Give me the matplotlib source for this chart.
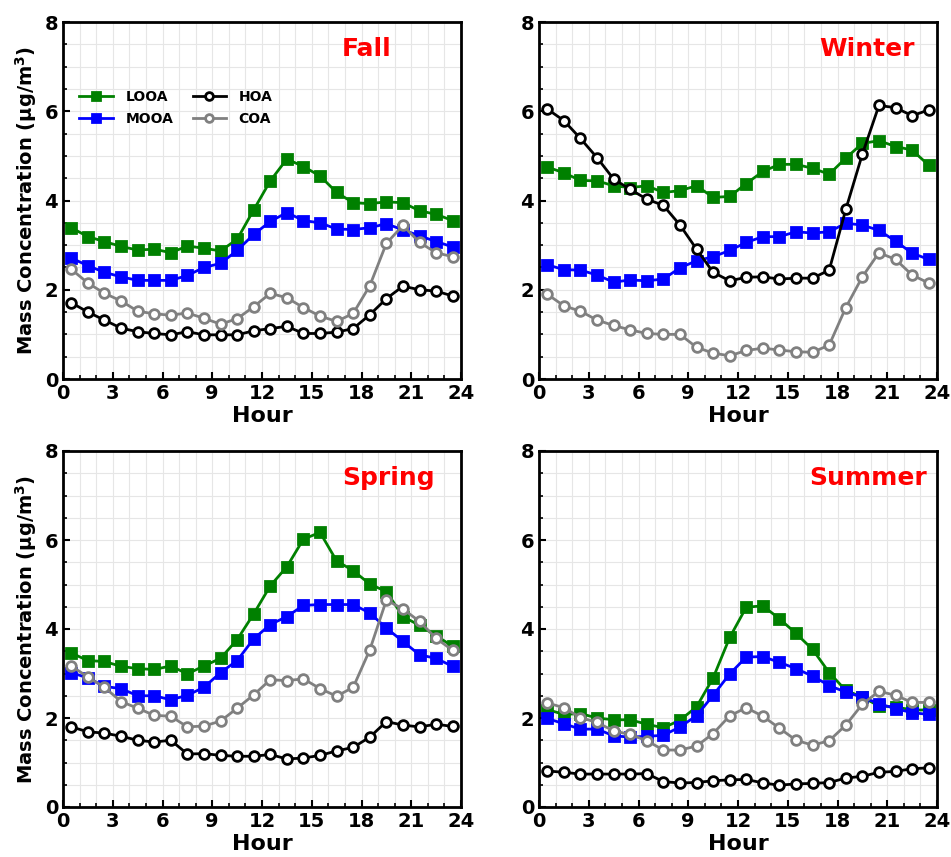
import numpy as np
import matplotlib
matplotlib.use("Agg")
import matplotlib.pyplot as plt
from matplotlib.ticker import MultipleLocator

plt.rcParams['font.family'] = 'DejaVu Sans'
plt.rcParams['font.weight'] = 'bold'

hours = np.arange(24) + 0.5
factors = ['LOOA', 'MOOA', 'HOA', 'COA']
seasons = ['Fall', 'Winter', 'Spring', 'Summer']

# diurnal profiles (ug/m3), one value per hour
fall_looa = [3.39, 3.19, 3.08, 2.97, 2.89, 2.91, 2.83, 2.98, 2.93, 2.87, 3.13, 3.79,
             4.44, 4.93, 4.76, 4.55, 4.18, 3.95, 3.93, 3.97, 3.95, 3.77, 3.69, 3.55]
fall_mooa = [2.71, 2.54, 2.39, 2.29, 2.21, 2.21, 2.21, 2.32, 2.50, 2.59, 2.88, 3.24,
             3.53, 3.73, 3.55, 3.50, 3.36, 3.35, 3.39, 3.48, 3.34, 3.21, 3.08, 2.96]
fall_hoa = [1.71, 1.50, 1.32, 1.14, 1.06, 1.02, 0.99, 1.06, 0.99, 0.99, 0.99, 1.08,
            1.13, 1.18, 1.02, 1.02, 1.05, 1.13, 1.44, 1.80, 2.08, 2.00, 1.97, 1.86]
fall_coa = [2.46, 2.15, 1.92, 1.75, 1.52, 1.46, 1.43, 1.48, 1.36, 1.23, 1.35, 1.62,
            1.92, 1.82, 1.60, 1.41, 1.29, 1.47, 2.09, 3.04, 3.44, 3.06, 2.83, 2.74]

winter_looa = [4.75, 4.62, 4.45, 4.44, 4.33, 4.29, 4.33, 4.18, 4.22, 4.33, 4.07, 4.09,
               4.38, 4.65, 4.81, 4.81, 4.72, 4.59, 4.95, 5.28, 5.34, 5.21, 5.13, 4.79]
winter_mooa = [2.56, 2.45, 2.44, 2.33, 2.17, 2.22, 2.20, 2.24, 2.49, 2.65, 2.74, 2.88,
               3.06, 3.19, 3.19, 3.30, 3.27, 3.30, 3.49, 3.45, 3.33, 3.09, 2.82, 2.68]
winter_hoa = [6.05, 5.79, 5.39, 4.96, 4.48, 4.25, 4.03, 3.89, 3.45, 2.91, 2.39, 2.20,
              2.28, 2.29, 2.24, 2.26, 2.26, 2.44, 3.80, 5.04, 6.13, 6.08, 5.90, 6.03]
winter_coa = [1.90, 1.64, 1.52, 1.32, 1.20, 1.10, 1.02, 1.00, 1.00, 0.71, 0.58, 0.52,
              0.64, 0.69, 0.65, 0.61, 0.60, 0.76, 1.60, 2.29, 2.83, 2.68, 2.33, 2.15]

spring_looa = [3.46, 3.29, 3.27, 3.16, 3.11, 3.09, 3.17, 2.99, 3.17, 3.34, 3.76, 4.34,
               4.97, 5.40, 6.02, 6.17, 5.53, 5.31, 5.01, 4.84, 4.28, 4.08, 3.85, 3.61]
spring_mooa = [3.02, 2.90, 2.71, 2.66, 2.50, 2.50, 2.41, 2.51, 2.69, 3.02, 3.29, 3.78,
               4.10, 4.28, 4.53, 4.55, 4.55, 4.55, 4.36, 4.02, 3.72, 3.42, 3.34, 3.16]
spring_hoa = [1.80, 1.69, 1.66, 1.59, 1.50, 1.46, 1.50, 1.19, 1.20, 1.16, 1.14, 1.14,
              1.18, 1.08, 1.10, 1.16, 1.26, 1.34, 1.57, 1.92, 1.84, 1.80, 1.86, 1.81]
spring_coa = [3.17, 2.92, 2.69, 2.37, 2.22, 2.06, 2.04, 1.80, 1.82, 1.93, 2.22, 2.52,
              2.86, 2.84, 2.88, 2.66, 2.49, 2.69, 3.53, 4.65, 4.45, 4.17, 3.79, 3.52]

summer_looa = [2.19, 2.08, 2.10, 2.00, 1.96, 1.96, 1.86, 1.78, 1.95, 2.25, 2.90, 3.81,
               4.49, 4.52, 4.23, 3.90, 3.54, 3.02, 2.62, 2.47, 2.27, 2.25, 2.18, 2.18]
summer_mooa = [1.99, 1.87, 1.75, 1.75, 1.60, 1.57, 1.59, 1.61, 1.80, 2.05, 2.51, 2.99,
               3.37, 3.38, 3.25, 3.11, 2.94, 2.73, 2.58, 2.47, 2.32, 2.21, 2.12, 2.08]
summer_hoa = [0.81, 0.78, 0.74, 0.74, 0.74, 0.74, 0.75, 0.57, 0.54, 0.55, 0.59, 0.61,
              0.62, 0.54, 0.49, 0.52, 0.53, 0.55, 0.65, 0.69, 0.78, 0.80, 0.86, 0.88]
summer_coa = [2.34, 2.23, 2.01, 1.90, 1.71, 1.63, 1.49, 1.28, 1.28, 1.37, 1.65, 2.05,
              2.23, 2.04, 1.77, 1.50, 1.39, 1.49, 1.84, 2.31, 2.60, 2.51, 2.35, 2.35]

data = {
    'Fall': [fall_looa, fall_mooa, fall_hoa, fall_coa],
    'Winter': [winter_looa, winter_mooa, winter_hoa, winter_coa],
    'Spring': [spring_looa, spring_mooa, spring_hoa, spring_coa],
    'Summer': [summer_looa, summer_mooa, summer_hoa, summer_coa],
}

styles = {
    'LOOA': dict(color='green', marker='s', mfc='green', mec='green'),
    'MOOA': dict(color='blue', marker='s', mfc='blue', mec='blue'),
    'HOA': dict(color='black', marker='o', mfc='white', mec='black'),
    'COA': dict(color='gray', marker='o', mfc='white', mec='gray'),
}

# axes boxes in figure fractions [left, bottom, width, height]
W, H = 951, 857
boxes = {
    'Fall': [63 / W, 1 - 379 / H, 398 / W, 357 / H],
    'Winter': [539 / W, 1 - 379 / H, 398 / W, 357 / H],
    'Spring': [63 / W, 1 - 807 / H, 398 / W, 356 / H],
    'Summer': [539 / W, 1 - 807 / H, 398 / W, 356 / H],
}
title_x = {'Fall': 0.825, 'Winter': 0.945, 'Spring': 0.935, 'Summer': 0.975}

fig = plt.figure(figsize=(W / 100, H / 100), dpi=100)

for s in seasons:
    ax = fig.add_axes(boxes[s])
    for name, y in zip(factors, data[s]):
        st = styles[name]
        ms = 7.5 if st['marker'] == 's' else 7
        ax.plot(hours, y, lw=2, ms=ms, mew=2, label=name, **st)
    ax.set_xlim(0, 24)
    ax.set_ylim(0, 8)
    ax.xaxis.set_major_locator(MultipleLocator(3))
    ax.xaxis.set_minor_locator(MultipleLocator(1))
    ax.yaxis.set_major_locator(MultipleLocator(2))
    ax.yaxis.set_minor_locator(MultipleLocator(0.5))
    ax.grid(which='both', color='#e6e6e6', lw=0.8)
    ax.set_axisbelow(True)
    ax.tick_params(which='both', direction='in', labelsize=14)
    ax.tick_params(which='major', length=5, width=1.5)
    ax.tick_params(which='minor', length=3, width=1.2)
    for sp in ax.spines.values():
        sp.set_linewidth(2)
    for lab in ax.get_xticklabels() + ax.get_yticklabels():
        lab.set_fontweight('bold')
    ax.set_xlabel('Hour', fontsize=16, fontweight='bold', labelpad=2)
    if s in ('Fall', 'Spring'):
        ax.set_ylabel('Mass Concentration (μg/m$^\\mathbf{3}$)', fontsize=14,
                      fontweight='bold')
    ax.text(title_x[s], 0.925, s, transform=ax.transAxes, ha='right', va='center',
            color='red', fontsize=18, fontweight='bold')
    if s == 'Fall':
        ax.legend(loc='upper left', bbox_to_anchor=(0.01, 0.845), ncol=2, frameon=False,
                  prop={'size': 10, 'weight': 'bold'}, columnspacing=1.4,
                  handlelength=2.4, handletextpad=0.9, labelspacing=0.6,
                  markerscale=0.8)

fig.savefig('out.png', dpi=100)
